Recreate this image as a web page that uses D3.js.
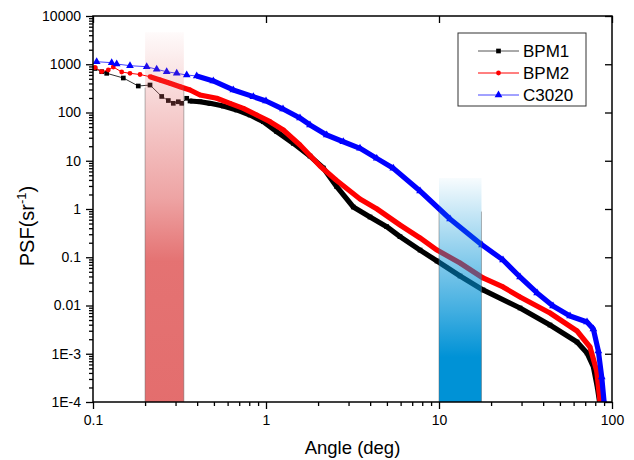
<!DOCTYPE html>
<html>
<head>
<meta charset="utf-8">
<script src="https://cdn.jsdelivr.net/npm/d3@7"></script>
<style>
    body { margin: 0; background: #fff; }
    svg { font-family: "Liberation Sans", Arial, sans-serif; }
</style>
</head>
<body>
<div id="chart_parent"></div>
<script>
// values
const bpm1Angle = [0.1027, 0.1123, 0.12, 0.1497, 0.1827, 0.2136, 0.2495, 0.2725, 0.2912, 0.3112, 0.3256, 0.3481,
    0.3637, 0.4154, 0.4746, 0.5666, 0.6769, 0.8083, 0.965, 1.153, 1.438, 1.796, 2.144, 2.563, 3.196, 3.993,
    4.985, 5.952, 7.77, 9.736, 13.23, 17.96, 29.4, 43.8, 62.8, 71.7, 78.0, 82.2, 84.7];
const bpm1Psf = [817, 701, 649, 519, 354, 371, 215, 177, 155, 167, 155, 197,
    173, 167, 155, 136, 113, 88.8, 64.5, 40.0, 23.0, 12.5, 7.07, 2.90, 1.10, 0.683,
    0.430, 0.267, 0.141, 0.0836, 0.0409, 0.021, 0.00888, 0.00394, 0.00175, 0.00104, 0.00054, 0.000208, 0.0001015];

const bpm2Angle = [0.1027, 0.1123, 0.1226, 0.131, 0.1465, 0.1636, 0.187, 0.2136, 0.244, 0.2787, 0.3184, 0.3637,
    0.4154, 0.5188, 0.6194, 0.7393, 0.8837, 1.0546, 1.259, 1.572, 2.052, 2.539, 3.494, 4.382, 5.952, 7.77,
    9.736, 13.23, 17.96, 23.44, 29.4, 43.8, 62.8, 74.6, 81.6, 85.2];
const bpm2Psf = [856, 701, 760, 877, 691, 649, 613, 552, 472, 403, 342, 293,
    231, 197, 155, 122, 88.8, 64.5, 43.4, 21.2, 7.78, 3.99, 1.61, 1.0, 0.466, 0.251,
    0.141, 0.076, 0.0372, 0.0242, 0.015, 0.007, 0.00296, 0.00138, 0.00044, 0.000105];

const c3020Angle = [0.105, 0.1282, 0.1371, 0.1636, 0.2044, 0.2334, 0.2667, 0.3047, 0.3481, 0.3976, 0.4958, 0.647,
    0.845, 1.0, 1.254, 1.572, 1.796, 2.243, 2.798, 3.494, 4.365, 5.44, 7.77, 11.58, 17.73, 23.44, 29.4, 36.9,
    45.6, 57.2, 71.7, 78.0, 83.4, 87.2, 89.9];
const c3020Psf = [1130, 1077, 1012, 933, 890, 785, 701, 649, 598, 571, 450, 293,
    213, 173, 118, 76.9, 55.1, 34.2, 24.8, 18.1, 11.2, 6.98, 2.36, 0.621, 0.18, 0.0877, 0.039, 0.0182,
    0.00977, 0.00606, 0.00455, 0.00326, 0.00114, 0.00033, 0.000105];

const seriesNames = ['BPM1', 'BPM2', 'C3020'];

const xTickValues = [0.1, 1, 10, 100];
const xTickLabels = ['0.1', '1', '10', '100'];
const yTickValues = [1e4, 1e3, 100, 10, 1, 0.1, 0.01, 1e-3, 1e-4];
const yTickLabels = ['10000', '1000', '100', '10', '1', '0.1', '0.01', '1E-3', '1E-4'];

// highlighted angle ranges [from, to, top value]
const redBand = [0.2, 0.335, 4600];
const blueBand = [10, 17.6, 4.4];

const chartConfig = {
    margins: { top: 16, right: 22, bottom: 58, left: 93 },
    outerWidth: 634,
    outerHeight: 460,
};

const seriesStyles = [
    { color: '#000000', lineColor: '#333333', symbol: d3.symbolSquare, size: 22, denseFrom: 0.36 },
    { color: '#ff0000', lineColor: '#ff0000', symbol: d3.symbolCircle, size: 18, denseFrom: 0.19 },
    { color: '#0000ff', lineColor: '#4444ff', symbol: d3.symbolTriangle, size: 26, denseFrom: 0.38 },
];

const seriesData = [
    bpm1Angle.map((a, i) => ({ angle: a, psf: bpm1Psf[i] })),
    bpm2Angle.map((a, i) => ({ angle: a, psf: bpm2Psf[i] })),
    c3020Angle.map((a, i) => ({ angle: a, psf: c3020Psf[i] })),
];

const m = chartConfig.margins;
const x0 = m.left;
const x1 = chartConfig.outerWidth - m.right;
const y0 = chartConfig.outerHeight - m.bottom;
const y1 = m.top;

const svg = d3.select('#chart_parent').append('svg')
    .attr('width', chartConfig.outerWidth)
    .attr('height', chartConfig.outerHeight);

const xScale = d3.scaleLog().domain([0.1, 100]).range([x0, x1]);
const yScale = d3.scaleLog().domain([1e-4, 1e4]).range([y0, y1]);

const defs = svg.append('defs');
defs.append('clipPath').attr('id', 'plot-clip')
    .append('rect')
    .attr('x', x0).attr('y', y1)
    .attr('width', x1 - x0).attr('height', y0 - y1);

function addGradient(id, color, stops) {
    const g = defs.append('linearGradient').attr('id', id)
        .attr('x1', 0).attr('y1', 0).attr('x2', 0).attr('y2', 1);
    stops.forEach(([off, op]) => {
        g.append('stop').attr('offset', off).attr('stop-color', color).attr('stop-opacity', op);
    });
}
addGradient('red-grad', 'rgb(226,102,102)', [[0, 0.03], [0.2, 0.3], [0.45, 0.6], [0.62, 0.92], [1, 0.95]]);
addGradient('blue-grad', 'rgb(0,146,214)', [[0, 0.03], [0.3, 0.4], [0.6, 0.75], [0.8, 1], [1, 1]]);

const plot = svg.append('g').attr('clip-path', 'url(#plot-clip)');

// series
const thinLine = d3.line().x(d => xScale(d.angle)).y(d => yScale(d.psf));

seriesData.forEach((data, i) => {
    const st = seriesStyles[i];
    const g = plot.append('g').attr('class', 'series');
    g.append('path')
        .attr('d', thinLine(data))
        .attr('fill', 'none')
        .attr('stroke', st.lineColor)
        .attr('stroke-width', 1);
    g.append('path')
        .attr('d', thinLine(data.filter(d => d.angle >= st.denseFrom)))
        .attr('fill', 'none')
        .attr('stroke', st.color)
        .attr('stroke-width', 5.2)
        .attr('stroke-linejoin', 'round');
    g.selectAll('path.marker')
        .data(data)
        .enter()
        .append('path')
        .attr('class', 'marker')
        .attr('transform', d => `translate(${xScale(d.angle)},${yScale(d.psf)})`)
        .attr('d', d3.symbol().type(st.symbol).size(st.size))
        .attr('fill', st.color);
});

// shaded bands, drawn over the curves
[[redBand, 'red-grad'], [blueBand, 'blue-grad']].forEach(([band, grad]) => {
    const bx = xScale(band[0]);
    const bw = xScale(band[1]) - bx;
    const by = yScale(band[2]);
    plot.append('rect')
        .attr('x', bx).attr('y', by)
        .attr('width', bw).attr('height', y0 - by)
        .attr('fill', `url(#${grad})`);
    [bx, bx + bw].forEach(ex => {
        plot.append('line')
            .attr('x1', ex).attr('x2', ex).attr('y1', by + (y0 - by) * 0.15).attr('y2', y0)
            .attr('stroke', 'rgba(90,90,90,0.45)').attr('stroke-width', 1);
    });
});

// axes
const minorX = [];
for (let dec = 0.1; dec < 100; dec *= 10) {
    for (let k = 2; k <= 9; k++) minorX.push(+(dec * k).toPrecision(3));
}
const minorY = [];
for (let dec = 1e-4; dec < 1e4; dec *= 10) {
    for (let k = 2; k <= 9; k++) minorY.push(+(dec * k).toPrecision(3));
}

const axisStyle = sel => {
    sel.select('.domain').remove();
    sel.selectAll('line').attr('stroke', '#000').attr('stroke-width', 1.3);
    sel.selectAll('text').attr('fill', '#000').attr('font-size', 14);
};

svg.append('g').attr('transform', `translate(0,${y0})`)
    .call(d3.axisBottom(xScale).tickValues(minorX).tickSize(4).tickFormat(''))
    .call(axisStyle);
svg.append('g').attr('transform', `translate(0,${y0})`)
    .call(d3.axisBottom(xScale).tickValues(xTickValues).tickSize(7).tickPadding(6)
        .tickFormat((d, i) => xTickLabels[i]))
    .call(axisStyle);
svg.append('g').attr('transform', `translate(0,${y1})`)
    .call(d3.axisTop(xScale).tickValues(xTickValues).tickSize(-7).tickFormat(''))
    .call(axisStyle);

svg.append('g').attr('transform', `translate(${x0},0)`)
    .call(d3.axisLeft(yScale).tickValues(minorY).tickSize(4).tickFormat(''))
    .call(axisStyle);
svg.append('g').attr('transform', `translate(${x0},0)`)
    .call(d3.axisLeft(yScale).tickValues(yTickValues).tickSize(7).tickPadding(5)
        .tickFormat((d, i) => yTickLabels[i]))
    .call(axisStyle);
svg.append('g').attr('transform', `translate(${x1},0)`)
    .call(d3.axisRight(yScale).tickValues(yTickValues).tickSize(-7).tickFormat(''))
    .call(axisStyle);

svg.append('rect')
    .attr('x', x0).attr('y', y1)
    .attr('width', x1 - x0).attr('height', y0 - y1)
    .attr('fill', 'none')
    .attr('stroke', '#000')
    .attr('stroke-width', 1.5);

// axis titles
svg.append('text')
    .attr('x', (x0 + x1) / 2)
    .attr('y', 454)
    .attr('text-anchor', 'middle')
    .attr('font-size', 18.5)
    .text('Angle (deg)');

const yTitle = svg.append('text')
    .attr('transform', 'translate(34,226) rotate(-90)')
    .attr('text-anchor', 'middle')
    .attr('font-size', 20);
yTitle.append('tspan').text('PSF(sr');
yTitle.append('tspan').attr('font-size', 13).attr('dy', -8).text('-1');
yTitle.append('tspan').attr('dy', 8).text(')');

// legend
const legend = svg.append('g').attr('transform', 'translate(458,33)');
legend.append('rect')
    .attr('width', 128).attr('height', 73)
    .attr('fill', '#fff')
    .attr('stroke', '#333')
    .attr('stroke-width', 1);
seriesNames.forEach((name, i) => {
    const st = seriesStyles[i];
    const row = legend.append('g').attr('transform', `translate(0,${18 + i * 22})`);
    row.append('line')
        .attr('x1', 20).attr('x2', 61)
        .attr('stroke', st.lineColor === '#333333' ? '#555' : st.lineColor)
        .attr('stroke-width', 1);
    row.append('path')
        .attr('transform', 'translate(40.5,0)')
        .attr('d', d3.symbol().type(st.symbol).size(st.size))
        .attr('fill', st.color);
    row.append('text')
        .attr('x', 65).attr('y', 6)
        .attr('font-size', 17)
        .text(name);
});
</script>
</body>
</html>
